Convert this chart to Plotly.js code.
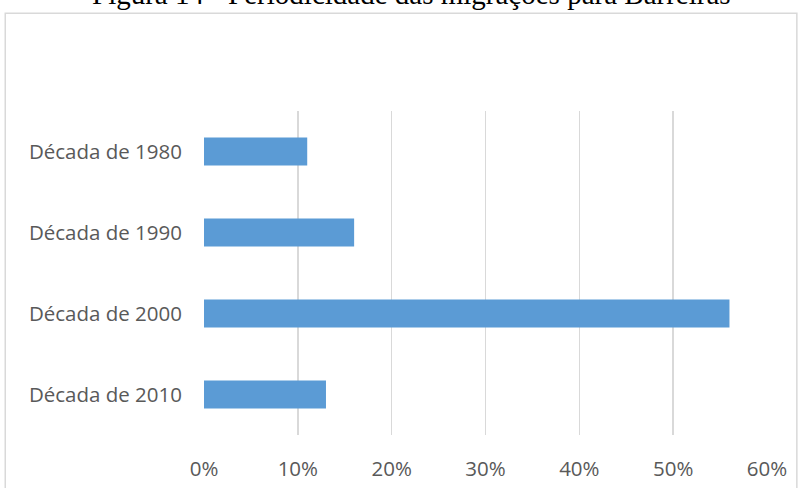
<!DOCTYPE html>
<html>
<head>
<meta charset="utf-8">
<script src="https://cdn.plot.ly/plotly-3.0.1.min.js"></script>
<style>html,body{margin:0;padding:0;background:#fff;}#chart{width:804px;height:488px;}</style>
</head>
<body>
<div id="chart"></div>
<script>
const categories = ["Década de 1980", "Década de 1990", "Década de 2000", "Década de 2010"];
const values = [0.11, 0.16, 0.56, 0.13];
const tickVals = [0, 0.1, 0.2, 0.3, 0.4, 0.5, 0.6];
const tickText = ["0%", "10%", "20%", "30%", "40%", "50%", "60%"];
const titleText = "Figura 14 - Periodicidade das migrações para Barreiras";

const trace = {
  type: "bar",
  orientation: "h",
  y: categories,
  x: values,
  marker: {color: "#5b9bd5", line: {width: 0}},
  width: 0.345,
  hoverinfo: "skip"
};

const labelFont = {family: "Open Sans, Noto Sans, sans-serif", size: 20.5, color: "#595959"};

const layout = {
  width: 804, height: 488,
  margin: {l: 204, r: 37, t: 111, b: 53},
  paper_bgcolor: "#ffffff",
  plot_bgcolor: "#ffffff",
  showlegend: false,
  xaxis: {
    range: [0, 0.6],
    tickvals: tickVals,
    ticktext: tickText,
    showgrid: true,
    gridcolor: "#d9d9d9",
    gridwidth: 1.5,
    zeroline: false,
    showline: false,
    ticks: "",
    ticklabelstandoff: 19,
    tickfont: labelFont,
    fixedrange: true
  },
  yaxis: {
    autorange: "reversed",
    categoryorder: "array",
    categoryarray: categories,
    showgrid: false,
    zeroline: false,
    showline: false,
    ticks: "",
    ticklabelstandoff: 21,
    tickfont: labelFont,
    fixedrange: true
  },
  annotations: [{
    text: titleText,
    xref: "paper", yref: "paper",
    x: 0.3694, y: 1.307,
    xanchor: "center", yanchor: "bottom",
    showarrow: false,
    font: {family: "Liberation Serif, Times New Roman, serif", size: 29, color: "#000000"}
  }],
  shapes: [{
    type: "rect", xref: "paper", yref: "paper",
    x0: -0.353, x1: 1.053, y0: -0.2, y1: 1.302,
    line: {color: "#d9d9d9", width: 1.5},
    fillcolor: "rgba(0,0,0,0)",
    layer: "below"
  }]
};

Plotly.newPlot("chart", [trace], layout, {displayModeBar: false, staticPlot: true});
</script>
</body>
</html>
